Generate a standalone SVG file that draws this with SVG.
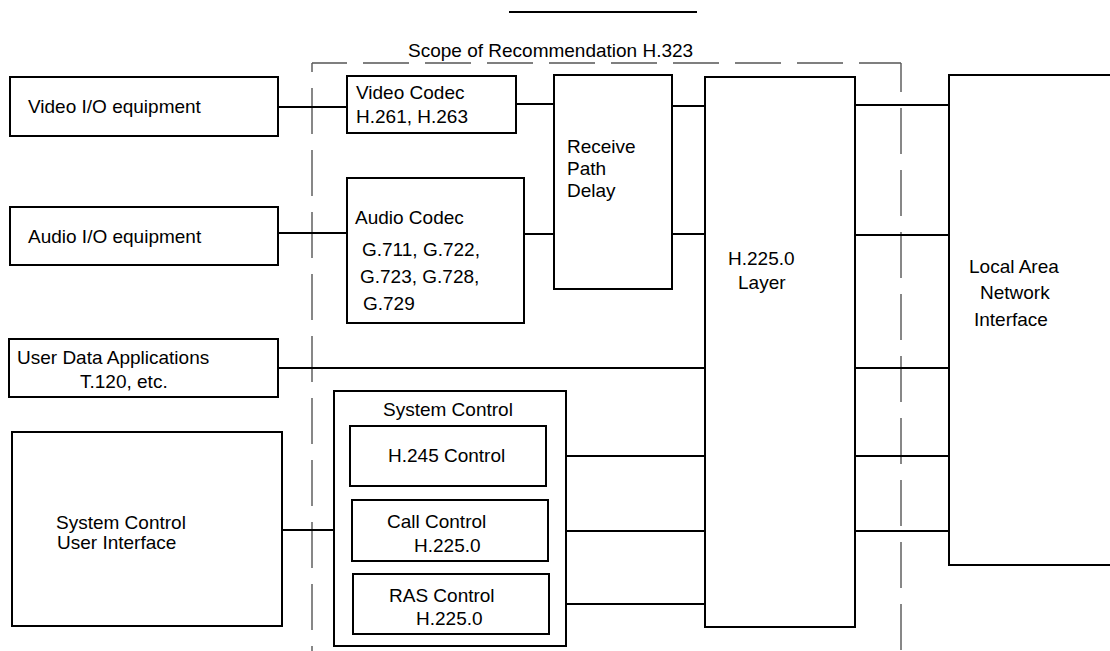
<svg xmlns="http://www.w3.org/2000/svg" width="1110" height="651" viewBox="0 0 1110 651">
<style>
  .box { fill: #fff; stroke: #000; stroke-width: 2; }
  .conn line { stroke: #000; stroke-width: 2; }
  .scope { fill: none; stroke: #555; stroke-width: 1.4; stroke-dasharray: 46 16; }
  text { font-family: "Liberation Sans", Arial, sans-serif; font-size: 19px; fill: #000; }
</style>
<rect width="1110" height="651" fill="#fff"/>
<line x1="509" y1="12" x2="697" y2="12" stroke="#000" stroke-width="2"/>
<g id="scope">
  <line class="scope" x1="312" y1="63" x2="901" y2="63" stroke-dashoffset="11"/>
  <line class="scope" x1="312" y1="63" x2="312" y2="651" stroke-dashoffset="37"/>
  <line class="scope" x1="901" y1="63" x2="901" y2="651" stroke-dashoffset="17"/>
  <text x="408" y="57">Scope of Recommendation H.323</text>
</g>
<g class="conn" id="connectors">
  <line x1="278" y1="107" x2="347" y2="107"/>
  <line x1="278" y1="233" x2="347" y2="233"/>
  <line x1="516" y1="104" x2="554" y2="104"/>
  <line x1="524" y1="234" x2="554" y2="234"/>
  <line x1="672" y1="106" x2="705" y2="106"/>
  <line x1="672" y1="234" x2="705" y2="234"/>
  <line x1="278" y1="368" x2="705" y2="368"/>
  <line x1="282" y1="530" x2="334" y2="530"/>
  <line x1="546" y1="456" x2="705" y2="456"/>
  <line x1="548" y1="531" x2="705" y2="531"/>
  <line x1="549" y1="604" x2="705" y2="604"/>
  <line x1="855" y1="105" x2="949" y2="105"/>
  <line x1="855" y1="235" x2="949" y2="235"/>
  <line x1="855" y1="368" x2="949" y2="368"/>
  <line x1="855" y1="456" x2="949" y2="456"/>
  <line x1="855" y1="531" x2="949" y2="531"/>
</g>
<g id="video-io"><rect class="box" x="10" y="77" width="268" height="59"/><text x="28" y="113">Video I/O equipment</text></g>
<g id="audio-io"><rect class="box" x="10" y="207" width="268" height="58"/><text x="28" y="243">Audio I/O equipment</text></g>
<g id="user-data"><rect class="box" x="9" y="339" width="269" height="58"/><text x="17" y="364">User Data Applications</text><text x="80" y="388">T.120, etc.</text></g>
<g id="sysctrl-ui"><rect class="box" x="12" y="432" width="270" height="194"/><text x="56" y="529">System Control</text><text x="57" y="549">User Interface</text></g>
<g id="video-codec"><rect class="box" x="347" y="76" width="169" height="57"/><text x="356" y="99">Video Codec</text><text x="356" y="123">H.261, H.263</text></g>
<g id="audio-codec"><rect class="box" x="347" y="178" width="177" height="145"/><text x="355" y="224">Audio Codec</text><text x="362" y="256">G.711, G.722,</text><text x="360" y="283">G.723, G.728,</text><text x="363" y="310">G.729</text></g>
<g id="receive-delay"><rect class="box" x="554" y="75" width="118" height="214"/><text x="567" y="153">Receive</text><text x="567" y="175">Path</text><text x="567" y="197">Delay</text></g>
<g id="h225-layer"><rect class="box" x="705" y="77" width="150" height="550"/><text x="728" y="265">H.225.0</text><text x="738" y="289">Layer</text></g>
<g id="lan"><rect class="box" x="949" y="75" width="170" height="490"/><text x="969" y="273">Local Area</text><text x="980" y="299">Network</text><text x="974" y="326">Interface</text></g>
<g id="system-control"><rect class="box" x="334" y="391" width="232" height="255"/><text x="383" y="416">System Control</text></g>
<g id="h245"><rect class="box" x="350" y="426" width="196" height="60"/><text x="388" y="462">H.245 Control</text></g>
<g id="call-control"><rect class="box" x="352" y="500" width="196" height="61"/><text x="387" y="528">Call Control</text><text x="414" y="552">H.225.0</text></g>
<g id="ras-control"><rect class="box" x="353" y="574" width="196" height="60"/><text x="389" y="602">RAS Control</text><text x="416" y="625">H.225.0</text></g>
</svg>
